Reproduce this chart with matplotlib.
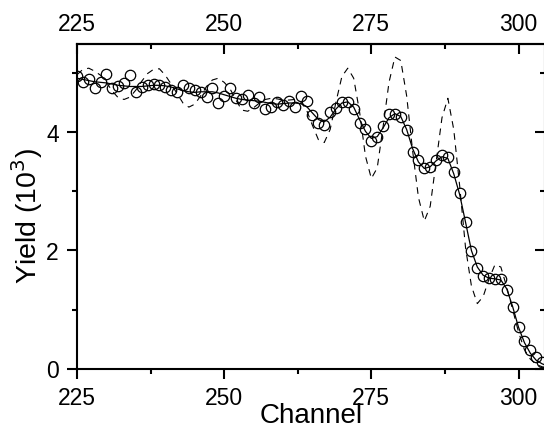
import matplotlib
matplotlib.use('Agg')
import matplotlib.pyplot as plt
from matplotlib.ticker import MultipleLocator

plt.rcParams['font.family'] = ['Liberation Sans', 'DejaVu Sans']

# measured spectrum, one point per channel (225 .. 304)
channel = list(range(225, 305))
yield_data = [4.96, 4.86, 4.91, 4.75, 4.86, 4.99, 4.75, 4.79, 4.84, 4.97,
              4.69, 4.77, 4.81, 4.82, 4.80, 4.77, 4.72, 4.69, 4.81, 4.75,
              4.72, 4.69, 4.60, 4.75, 4.50, 4.62, 4.75, 4.59, 4.57, 4.64,
              4.50, 4.60, 4.40, 4.43, 4.52, 4.47, 4.53, 4.43, 4.62, 4.53,
              4.30, 4.16, 4.13, 4.35, 4.41, 4.52, 4.52, 4.40, 4.16, 4.06,
              3.86, 3.92, 4.11, 4.31, 4.31, 4.26, 4.04, 3.67, 3.53, 3.40,
              3.42, 3.53, 3.62, 3.58, 3.33, 2.97, 2.48, 1.99, 1.70, 1.57,
              1.53, 1.52, 1.52, 1.33, 1.04, 0.70, 0.47, 0.31, 0.19, 0.11]

# simulation curves, read per channel (225 .. 305)
sim_channel = list(range(225, 306))
fit = [4.92, 4.90, 4.88, 4.86, 4.85, 4.84, 4.82, 4.80, 4.79, 4.78,
       4.78, 4.78, 4.79, 4.80, 4.80, 4.79, 4.77, 4.74, 4.71, 4.69,
       4.68, 4.69, 4.69, 4.69, 4.67, 4.64, 4.61, 4.58, 4.56, 4.55,
       4.54, 4.53, 4.51, 4.49, 4.48, 4.49, 4.50, 4.50, 4.49, 4.44,
       4.33, 4.22, 4.18, 4.26, 4.40, 4.50, 4.52, 4.43, 4.22, 4.02,
       3.90, 3.93, 4.08, 4.25, 4.32, 4.27, 4.05, 3.73, 3.50, 3.39,
       3.42, 3.52, 3.59, 3.56, 3.30, 2.95, 2.48, 2.00, 1.72, 1.58,
       1.53, 1.52, 1.50, 1.35, 1.05, 0.70, 0.44, 0.26, 0.14, 0.08,
       0.04]
no_rough = [4.98, 5.07, 5.09, 5.04, 4.97, 4.85, 4.70, 4.59, 4.56, 4.60,
            4.72, 4.87, 5.00, 5.07, 5.08, 4.97, 4.82, 4.66, 4.50, 4.43,
            4.48, 4.62, 4.78, 4.89, 4.92, 4.85, 4.74, 4.55, 4.38, 4.36,
            4.42, 4.50, 4.56, 4.58, 4.57, 4.55, 4.55, 4.56, 4.52, 4.38,
            4.12, 3.88, 3.83, 4.05, 4.52, 4.95, 5.09, 4.92, 4.35, 3.60,
            3.22, 3.40, 4.10, 4.85, 5.28, 5.22, 4.62, 3.70, 2.90, 2.50,
            2.75, 3.50, 4.25, 4.58, 4.05, 3.10, 2.05, 1.40, 1.10, 1.22,
            1.52, 1.76, 1.72, 1.38, 1.00, 0.62, 0.32, 0.16, 0.07, 0.03,
            0.01]

xticks = [225, 250, 275, 300]
yticks = [0, 2, 4]

fig = plt.figure(figsize=(5.44, 4.23), dpi=100)
ax = fig.add_axes([77 / 544, 54.5 / 423, 468 / 544, 324.5 / 423])

ax.plot(sim_channel, no_rough, color='black', lw=0.8, ls=(0, (6, 5)))
ax.plot(sim_channel, fit, color='black', lw=0.9)
ax.plot(channel, yield_data, 'o', mfc='none', mec='black', mew=0.9, ms=7.5)

ax.set_xlim(225, 304.5)
ax.set_ylim(0, 5.5)
ax.set_xticks(xticks)
ax.set_yticks(yticks)
ax.xaxis.set_minor_locator(MultipleLocator(12.5))
ax.yaxis.set_minor_locator(MultipleLocator(1))
ax.tick_params(which='both', direction='out', width=1.5, labelsize=16.5, pad=6)
ax.tick_params(which='major', length=7)
ax.tick_params(which='minor', length=3.5)
for s in ax.spines.values():
    s.set_linewidth(1.5)

top = ax.secondary_xaxis('top')
top.set_xticks(xticks)
top.xaxis.set_minor_locator(MultipleLocator(12.5))
top.tick_params(which='both', direction='in', width=1.5, labelsize=16.5, pad=6)
top.tick_params(which='major', length=7)
top.tick_params(which='minor', length=3.5)
top.spines['top'].set_linewidth(1.5)

right = ax.secondary_yaxis('right')
right.set_yticks(yticks)
right.yaxis.set_minor_locator(MultipleLocator(1))
right.tick_params(which='both', direction='in', width=1.5, labelright=False)
right.tick_params(which='major', length=7)
right.tick_params(which='minor', length=3.5)
right.spines['right'].set_linewidth(1.5)

ax.set_xlabel('Channel', fontsize=20)
ax.xaxis.set_label_coords(0.5, -0.105)
ax.set_ylabel('Yield (10$^3$)', fontsize=20.5)
ax.yaxis.set_label_coords(-0.068, 0.47)

fig.savefig('out.png', dpi=100)
